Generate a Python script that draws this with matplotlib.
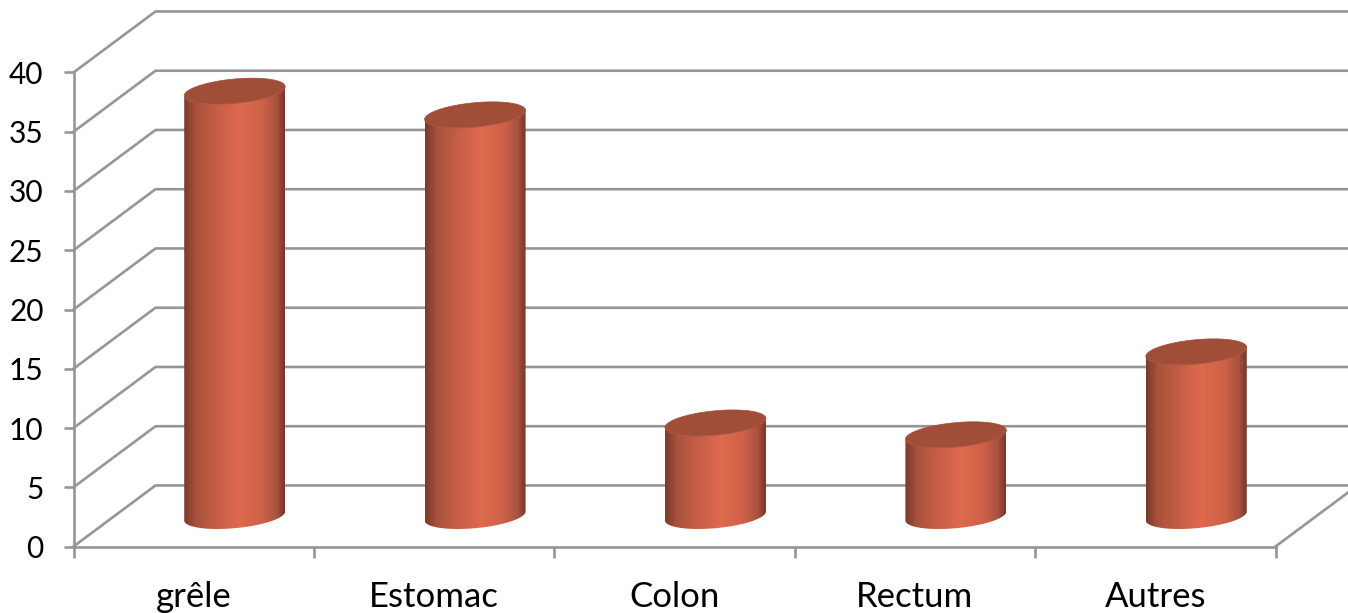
import numpy as np
import matplotlib
matplotlib.use("Agg")
import matplotlib.pyplot as plt
from matplotlib.colors import LinearSegmentedColormap
from matplotlib.patches import PathPatch, Polygon
from matplotlib.path import Path

categories = ["grêle", "Estomac", "Colon", "Rectum", "Autres"]
values = [35.85, 33.85, 7.85, 6.85, 13.85]
y_ticks = [0, 5, 10, 15, 20, 25, 30, 35, 40]

# oblique depth of the floor, in axis units (categories, value)
DEPTH_X = 0.341
DEPTH_Y = 5.15
# cylinder radius across and along the depth direction
RADIUS_X = 0.197
RADIUS_D = 0.213

GRID = "#969696"
LINE = 1.9
TOP = "#a04e38"
shade = LinearSegmentedColormap.from_list("cyl", [
    (0.00, "#7a3b2a"), (0.12, "#a9523c"), (0.35, "#c95f46"), (0.55, "#df6a4e"),
    (0.78, "#cd6148"), (0.92, "#a85240"), (1.00, "#75362a"),
])

plt.rcParams["font.family"] = ["Lato", "DejaVu Sans"]

fig = plt.figure(figsize=(13.48, 6.13), dpi=100)
ax = fig.add_axes([73.5 / 1348, (613 - 546.5) / 613, 1202 / 1348, 474 / 613])


def project(x, depth, value):
    return x + depth * DEPTH_X, value + depth * DEPTH_Y


# grid lines run along the side wall, then along the back wall
for v in y_ticks:
    ax.plot([0, DEPTH_X, 5 + DEPTH_X], [v, v + DEPTH_Y, v + DEPTH_Y],
            color=GRID, lw=LINE, clip_on=False, zorder=1)
ax.plot([5, 5 + DEPTH_X], [0, DEPTH_Y], color=GRID, lw=LINE, clip_on=False, zorder=1)

# silhouette of the cylinder starts where the projected circle is widest
t0 = np.arctan2(RADIUS_D * DEPTH_X, RADIUS_X)
half = np.linspace(t0 + np.pi, t0 + 2 * np.pi, 80)
full = np.linspace(0, 2 * np.pi, 160)

for i, val in enumerate(values):
    cx = i + 0.5
    bx, by = project(cx + RADIUS_X * np.cos(half), 0.5 + RADIUS_D * np.sin(half), 0)
    tx, ty = project(cx + RADIUS_X * np.cos(half), 0.5 + RADIUS_D * np.sin(half), val)
    body = Polygon(np.column_stack([np.r_[bx, tx[::-1]], np.r_[by, ty[::-1]]]),
                   closed=True, fc="none", ec="none", zorder=3)
    ax.add_patch(body)

    im = ax.imshow(np.linspace(0, 1, 256).reshape(1, -1), cmap=shade, aspect="auto",
                   extent=(bx.min(), bx.max(), by.min(), ty.max()), zorder=3,
                   interpolation="bilinear")
    im.set_clip_path(body)

    ex, ey = project(cx + RADIUS_X * np.cos(full), 0.5 + RADIUS_D * np.sin(full), val)
    top = PathPatch(Path(np.column_stack([ex, ey])), fc=TOP, ec=TOP, lw=0.5, zorder=4)
    ax.add_patch(top)

ax.set_xlim(0, 5)
ax.set_ylim(0, 40)
ax.patch.set_visible(False)

for side in ["top", "right"]:
    ax.spines[side].set_visible(False)
for side in ["left", "bottom"]:
    ax.spines[side].set_color(GRID)
    ax.spines[side].set_linewidth(LINE)

ax.set_yticks(y_ticks)
ax.tick_params(axis="y", length=7.5, width=LINE, color=GRID, pad=14, labelsize=21.5)
for label in ax.get_yticklabels():
    label.set_verticalalignment("center_baseline")

# tick marks sit between the categories, labels in the middle of each slot
ax.set_xticks(range(6))
ax.set_xticklabels([])
ax.set_xticks(np.arange(5) + 0.5, minor=True)
ax.set_xticklabels(categories, minor=True)
ax.tick_params(axis="x", which="major", length=8, width=LINE, color=GRID)
ax.tick_params(axis="x", which="minor", length=0, pad=25, labelsize=25)

fig.savefig("out.png", dpi=100)
